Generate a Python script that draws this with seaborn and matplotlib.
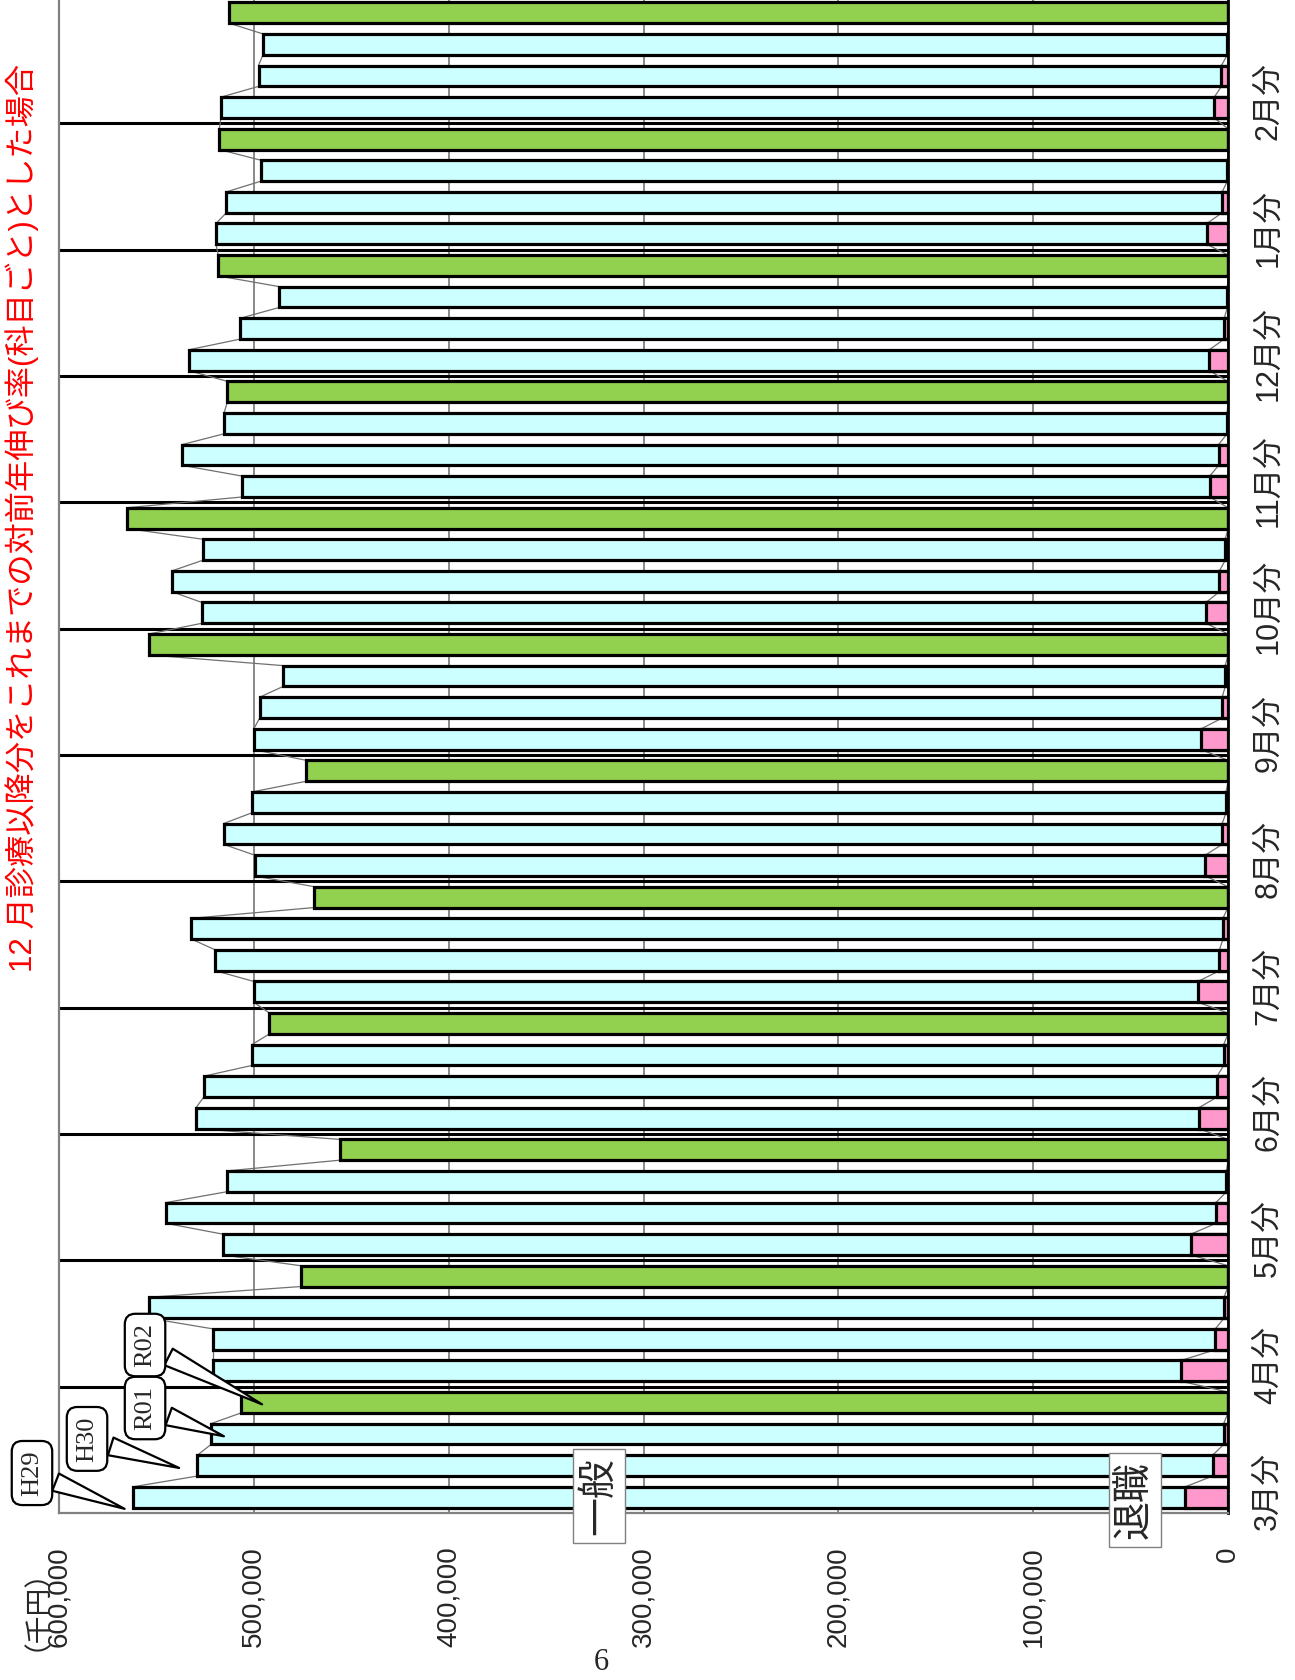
import numpy as np
import pandas as pd
import seaborn as sns
import matplotlib
matplotlib.use("Agg")
import matplotlib.pyplot as plt
from matplotlib.ticker import FuncFormatter

# ---- data (千円) ----
months = ['3月分', '4月分', '5月分', '6月分', '7月分', '8月分', '9月分',
          '10月分', '11月分', '12月分', '1月分', '2月分']
years = ['H29', 'H30', 'R01', 'R02']

h29_ippan = [540100, 497000, 497000, 514700, 484600, 488000, 486300, 515400, 496500, 523800, 508600, 509900]
h29_taisyoku = [21900, 24000, 19000, 15000, 15400, 11600, 13700, 11300, 9400, 9600, 10800, 7000]
h30_ippan = [521100, 514500, 538800, 520100, 515400, 512500, 494000, 537600, 531900, 505000, 511100, 494200]
h30_taisyoku = [7900, 6500, 6200, 5600, 4400, 3000, 3000, 4400, 4800, 1900, 3000, 3400]
r01_ippan = [519800, 552000, 513200, 498800, 529400, 500000, 483600, 524600, 514800, 486700, 496000, 495000]
r01_taisyoku = [2200, 2000, 800, 2200, 2600, 1000, 1400, 1400, 500, 300, 300, 300]
r02_ippan = [506500, 476000, 456000, 492000, 469000, 473000, 554000, 565000, 513600, 518300, 517700, 512600]
r02_taisyoku = [0] * 12

title = '12 月診療以降分をこれまでの対前年伸び率(科目ごと)とした場合'

ippan = {'H29': h29_ippan, 'H30': h30_ippan, 'R01': r01_ippan, 'R02': r02_ippan}
taisyoku = {'H29': h29_taisyoku, 'H30': h30_taisyoku, 'R01': r01_taisyoku, 'R02': r02_taisyoku}

rows = []
for m, month in enumerate(months):
    for k, yr in enumerate(years):
        rows.append(dict(month=month, year=yr, pos=m * 4 + k,
                         ippan=ippan[yr][m], taisyoku=taisyoku[yr][m],
                         kind='green' if yr == 'R02' else 'cyan'))
df = pd.DataFrame(rows)
df['total'] = df['ippan'] + df['taisyoku']

CYAN = '#CCFFFF'
GREEN = '#92D050'
PINK = '#FF99CC'
W = 0.66

sns.set_style('white')
plt.rcParams['font.family'] = ['Liberation Sans', 'Noto Sans CJK JP', 'DejaVu Sans']

fig = plt.figure(figsize=(12.95, 16.8), dpi=100)
ax = fig.add_axes([59 / 1295, 167 / 1680, 1169 / 1295, 1516 / 1680])

# separators between months
for m in range(1, 12):
    ax.axhline(m * 4 - 0.5, color='black', lw=2.2, zorder=0.8)

# 一般+退職 (total), then 退職 on top
sns.barplot(data=df, x='total', y='pos', hue='kind', orient='h', native_scale=True,
            palette={'cyan': CYAN, 'green': GREEN}, dodge=False, width=W,
            saturation=1, edgecolor='black', linewidth=2.3, errorbar=None,
            legend=False, ax=ax)
sns.barplot(data=df, x='taisyoku', y='pos', orient='h', native_scale=True,
            color=PINK, width=W, saturation=1, edgecolor='black', linewidth=2.3,
            errorbar=None, ax=ax)

# series lines
for col in ['total', 'taisyoku']:
    v = df[col].values
    p = df['pos'].values
    for i in range(len(v) - 1):
        ax.plot([v[i], v[i + 1]], [p[i] + W / 2, p[i + 1] - W / 2],
                color='#707070', lw=0.9, zorder=0.9)

ax.set_xlim(600000, 0)
ax.set_ylim(-0.5, 47.5)
ax.set_xticks(np.arange(0, 600001, 100000))
ax.xaxis.set_major_formatter(FuncFormatter(lambda v, p: f'{int(v):,}'))
ax.xaxis.grid(True, color='#808080', lw=1.3)
ax.yaxis.grid(False)
ax.set_axisbelow(True)
ax.tick_params(axis='x', length=0, pad=24, labelsize=20, labelrotation=90)

ax.yaxis.tick_right()
ax.set_yticks([m * 4 + 0.2 for m in range(12)])
ax.set_yticklabels(months)
ax.tick_params(axis='y', length=0, pad=18, labelsize=22)
for lab in ax.get_yticklabels():
    lab.set_rotation(90)
    lab.set_va('center')
ax.set_xlabel('')
ax.set_ylabel('')

for s in ['left', 'bottom']:
    ax.spines[s].set_color('#808080')
    ax.spines[s].set_linewidth(1.6)
ax.spines['right'].set_color('black')
ax.spines['right'].set_linewidth(2)
ax.spines['top'].set_visible(False)

# callouts for the years
callouts = [('H29', 3000, -0.4, (0.0247, 0.1232)),
            ('H30', 8000, -0.1, (0.0672, 0.1435)),
            ('R01', -8000, -0.1, (0.112, 0.1619)),
            ('R02', -12000, -0.1, (0.112, 0.1994))]
for k, (yr, dx, dy, xyt) in enumerate(callouts):
    row = df[(df['month'] == months[0]) & (df['year'] == yr)].iloc[0]
    ax.annotate(yr, xy=(row['total'] + dx, row['pos'] + dy), xycoords='data',
                xytext=xyt, textcoords='figure fraction', rotation=90,
                ha='center', va='center', fontsize=19, family='Liberation Serif',
                bbox=dict(boxstyle='round,pad=0.35,rounding_size=0.4', fc='white', ec='black', lw=1.6),
                arrowprops=dict(arrowstyle='wedge,tail_width=0.7,shrink_factor=0.5',
                                fc='white', ec='black', lw=1.6),
                annotation_clip=False, zorder=5)

fig.text(0.4625, 0.1095, '一般', rotation=90, ha='center', va='center', fontsize=28,
         bbox=dict(boxstyle='square,pad=0.2', fc='white', ec='#808080', lw=1), zorder=6)
fig.text(0.8764, 0.1071, '退職', rotation=90, ha='center', va='center', fontsize=28,
         bbox=dict(boxstyle='square,pad=0.2', fc='white', ec='#808080', lw=1), zorder=6)

fig.text(0.017, 0.692, title, rotation=90, ha='center', va='center', fontsize=22.5, color='red')
fig.text(22 / 1295, 1 - 1540 / 1680, '（千円）', rotation=90, ha='center', va='top',
         fontsize=20, family=['Noto Sans CJK JP'])
fig.text(0.464, 0.0107, '6', ha='center', va='center', fontsize=22, family='Liberation Serif')

fig.savefig('out.png', dpi=100)
